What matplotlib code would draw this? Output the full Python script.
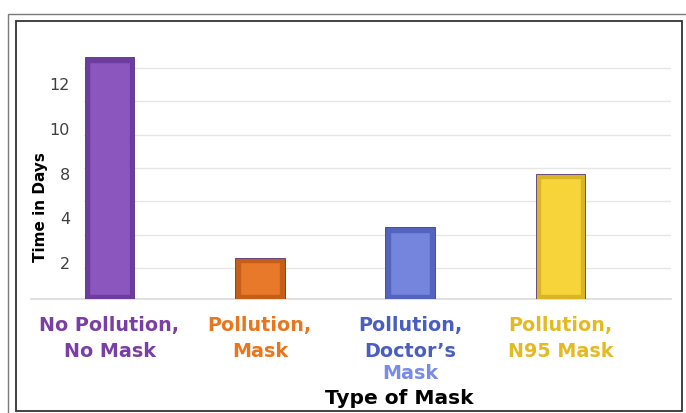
import numpy as np
import matplotlib
matplotlib.use("Agg")
import matplotlib.pyplot as plt
from matplotlib.patches import Rectangle
import matplotlib.transforms as mtransforms

# data
categories = [["No Pollution,", "No Mask"],
              ["Pollution,", "Mask"],
              ["Pollution,", "Doctor\u2019s", "Mask"],
              ["Pollution,", "N95 Mask"]]
days = [13.5, 2.3, 4.0, 7.0]
y_tick_labels = ["2", "4", "8", "10", "12"]

# styling
face = ["#8C56BF", "#E8792A", "#7585DD", "#F7D43A"]
band = ["#6C3D9E", "#C45E18", "#5264BE", "#D9B526"]
label_col = [["#7A3FA5", "#7A3FA5"], ["#E8761F", "#E8761F"],
             ["#4A5EC0", "#4A5EC0", "#7A8CE5"], ["#E3BA22", "#E3BA22"]]
y_tick_pos = [2, 4.5, 7, 9.5, 12]
grid_pos = 1.73 + 1.86 * np.arange(7)

W, H = 686, 413
fig = plt.figure(figsize=(W / 100, H / 100), dpi=100)
ax = fig.add_axes([84 / W, (H - 299) / H, (671 - 84) / W, 249 / H])

x = np.arange(len(days))
bw = 0.33
dx, dy = 0.03, 0.25
ax.bar(x, days, width=bw, color=band, edgecolor="#55337a", linewidth=0.6, zorder=3)
inner = [v - 2 * dy for v in days]
ax.bar(x, inner, width=bw - 2 * dx, bottom=dy, color=face, edgecolor=band,
       linewidth=1.0, zorder=4)

for g in grid_pos:
    ax.axhline(g, color="#E6E6E6", lw=1, zorder=1)
ax.plot([-(84 - 31) / 587, 1], [0, 0], transform=ax.get_yaxis_transform(),
        color="#DADADA", lw=1.2, clip_on=False, zorder=2)

ax.set_xlim(-0.17, 3.735)
ax.set_ylim(0, 13.9)
ax.set_yticks(y_tick_pos, y_tick_labels)
ax.tick_params(axis="y", length=0, pad=10, labelsize=11.5, labelcolor="#404040")
ax.set_xticks([])
for s in ax.spines.values():
    s.set_visible(False)
ax.patch.set_alpha(0)

trans = mtransforms.blended_transform_factory(ax.transData, ax.transAxes)
line_y = [-0.108, -0.209, -0.300]
for i, lines in enumerate(categories):
    for j, t in enumerate(lines):
        ax.text(x[i], line_y[j], t, transform=trans, ha="center", va="center",
                fontsize=13.8, fontweight="bold", color=label_col[i][j])

fig.text(399 / W, 1 - 398 / H, "Type of Mask", ha="center", va="center",
         fontsize=14.5, fontweight="bold", color="black")
fig.text(40 / W, 1 - 207 / H, "Time in Days", ha="center", va="center",
         rotation=90, fontsize=11, fontweight="bold", color="black")

# frames
fig.patches.append(Rectangle((8 / W, -0.1), 1.0, 1.1 - 14 / H, transform=fig.transFigure,
                             fill=False, edgecolor="#7a7a7a", lw=1.0))
fig.patches.append(Rectangle((16 / W, 2 / H), (682 - 16) / W, (411 - 21) / H,
                             transform=fig.transFigure, fill=False,
                             edgecolor="#333333", lw=1.3))

fig.savefig("out.png", dpi=100)
